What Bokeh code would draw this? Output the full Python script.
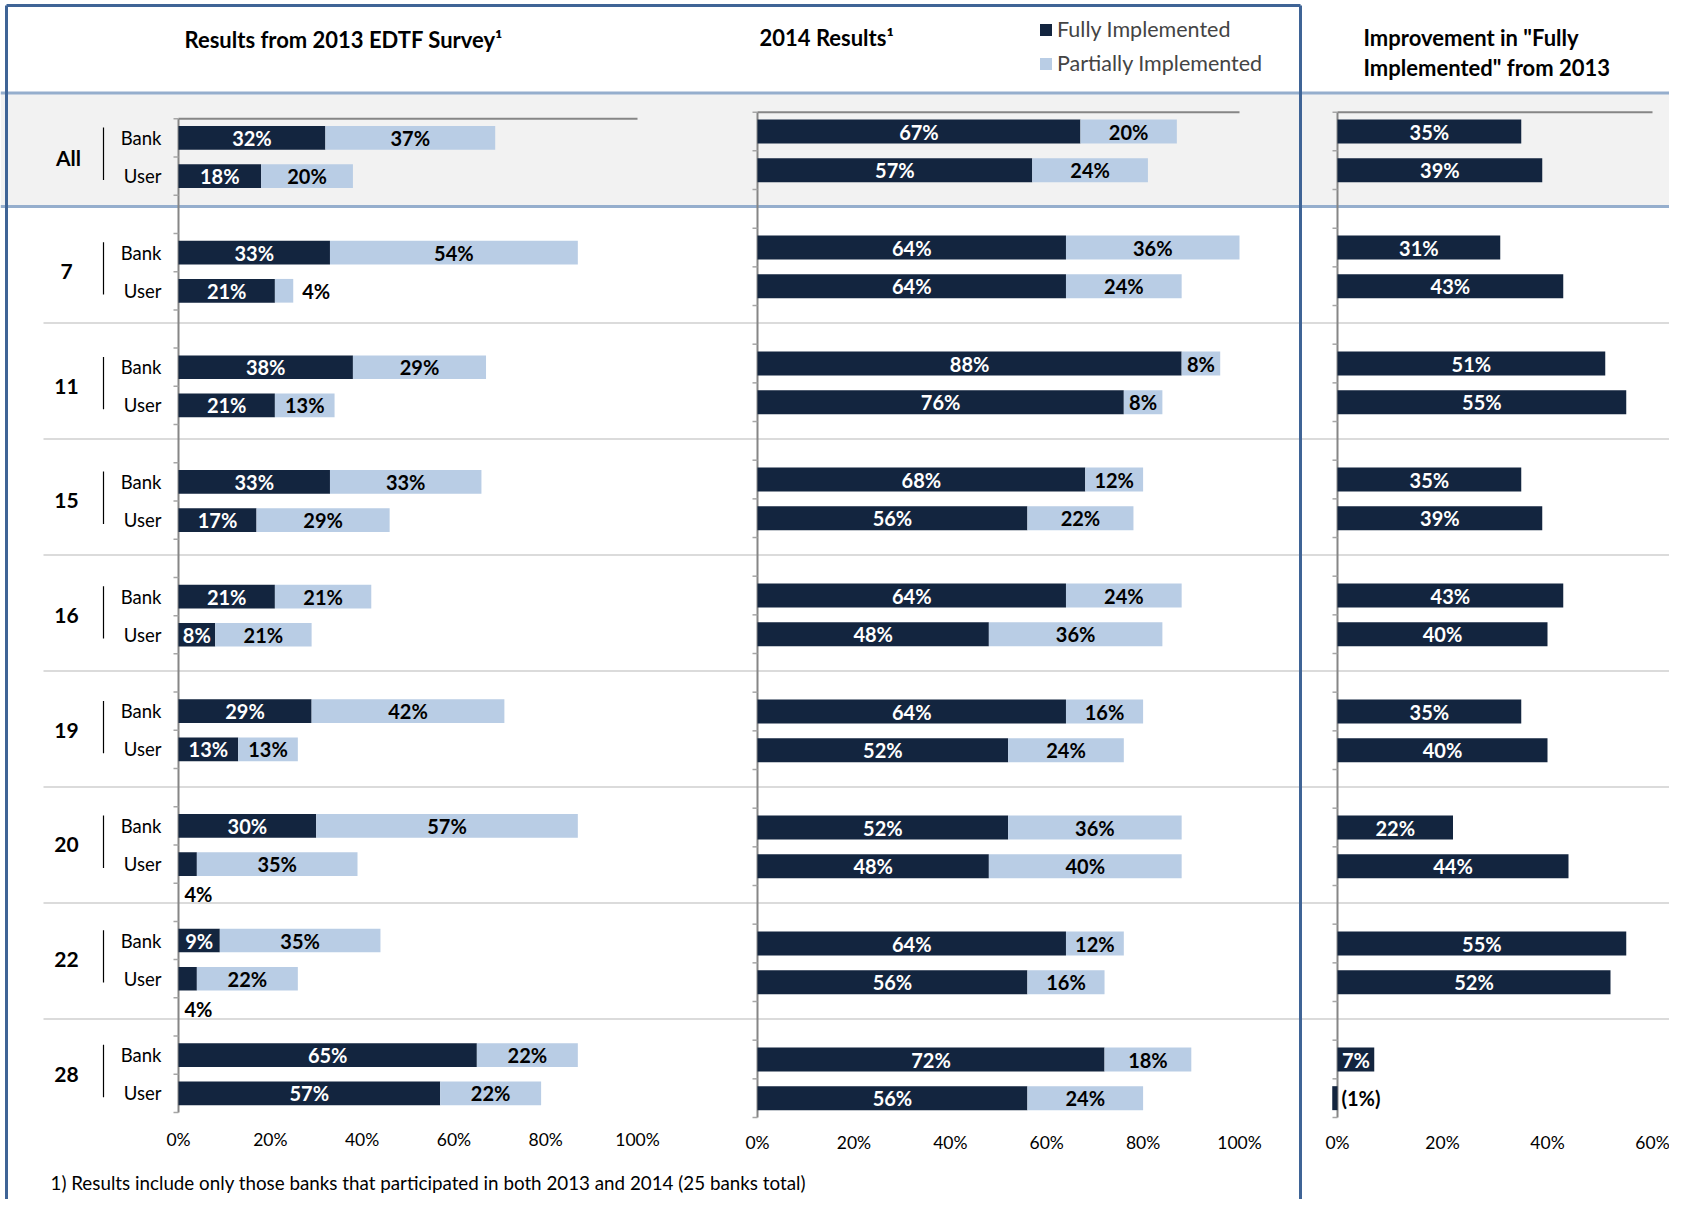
from bokeh.plotting import figure
from bokeh.models import Range1d, ColumnDataSource, Legend, LegendItem
from bokeh.core.properties import value
from bokeh.embed import file_html
from bokeh.resources import INLINE

# ---------------- data ----------------
groups = ["All", "7", "11", "15", "16", "19", "20", "22", "28"]
respondents = ["Bank", "User"]

bank_full_2013 = [32, 33, 38, 33, 21, 29, 30, 9, 65]
bank_part_2013 = [37, 54, 29, 33, 21, 42, 57, 35, 22]
user_full_2013 = [18, 21, 21, 17, 8, 13, 4, 4, 57]
user_part_2013 = [20, 4, 13, 29, 21, 13, 35, 22, 22]

bank_full_2014 = [67, 64, 88, 68, 64, 64, 52, 64, 72]
bank_part_2014 = [20, 36, 8, 12, 24, 16, 36, 12, 18]
user_full_2014 = [57, 64, 76, 56, 48, 52, 48, 56, 56]
user_part_2014 = [24, 24, 8, 22, 36, 24, 40, 16, 24]

bank_improve = [35, 31, 51, 35, 43, 35, 22, 55, 7]
user_improve = [39, 43, 55, 39, 40, 40, 44, 52, -1]

ticks_main = [0, 20, 40, 60, 80, 100]
ticks_improve = [0, 20, 40, 60]

title_2013 = "Results from 2013 EDTF Survey\u00b9"
title_2014 = "2014 Results\u00b9"
title_improve = ["Improvement in \"Fully", "Implemented\" from 2013"]
legend_labels = ["Fully Implemented", "Partially Implemented"]
footnote = "1) Results include only those banks that participated in both 2013 and 2014 (25 banks total)"

# ---------------- style ----------------
DARK = "#13253f"
LIGHT = "#b9cde5"
FRAME = "#3f6496"
HLINE = "#95aecd"
BAND = "#f2f2f2"
AXIS = "#868686"
SEP = "#cfcfcf"
FONT = value("Lato")

W, H = 1669, 1199

p = figure(width=W, height=H, x_range=Range1d(0, W), y_range=Range1d(H, 0),
           output_backend="svg", toolbar_location=None,
           x_axis_type=None, y_axis_type=None, min_border=0,
           outline_line_color=None, background_fill_color="white",
           border_fill_color="white")
p.xgrid.visible = False
p.ygrid.visible = False


def x_range(px_a, v_a, px_b, v_b):
    b = (px_b - px_a) / (v_b - v_a)
    a = px_a - b * v_a
    return Range1d(start=-a / b, end=(W - a) / b), b


def y_range(px_a, v_a, px_b, v_b):
    b = (px_b - px_a) / (v_b - v_a)
    a = px_a - b * v_a
    return Range1d(start=(H - a) / b, end=-a / b), b


xr1, sx1 = x_range(178, 0, 637, 100)
xr2, sx2 = x_range(757, 0, 1239, 100)
xr3, sx3 = x_range(1337, 0, 1652, 60)
yr1, sy1 = y_range(118.3, -0.5, 1112, 25.5)
yr2, sy2 = y_range(111.7, -0.5, 1117, 25.5)
p.extra_x_ranges = {"p1": xr1, "p2": xr2, "p3": xr3}
p.extra_y_ranges = {"y1": yr1, "y2": yr2}

n = len(groups)
nslots = 3 * n - 1

# ---------------- background decorations ----------------
p.quad(left=0, right=W, top=92.5, bottom=206, fill_color=BAND, line_color=None)
# group separators in the blank rows between groups
sep_y = [3 * g + 1.95 for g in range(1, n - 1)]
p.segment(x0=43, x1=W, y0=sep_y, y1=sep_y, line_color=SEP, line_width=1.5,
          y_range_name="y2")
# header lines
p.segment(x0=0, x1=W, y0=[92.5, 206], y1=[92.5, 206], line_color=HLINE, line_width=3)
# frame
p.segment(x0=[6, 1300, 6], x1=[6, 1300, 1300], y0=[5, 5, 5], y1=[H, H, 5],
          line_color=FRAME, line_width=3)

# ---------------- panels ----------------
y_bank = [3 * g for g in range(n)]
y_user = [3 * g + 1 for g in range(n)]
ys = y_bank + y_user


def axis_lines(xname, yname, xmax, sx):
    p.segment(x0=[0, 0], x1=[0, xmax], y0=[-0.5, -0.5], y1=[nslots - 0.5, -0.5],
              line_color=AXIS, line_width=2, x_range_name=xname, y_range_name=yname)
    tks = [k - 0.5 for k in range(nslots + 1)]
    p.segment(x0=[0] * len(tks), x1=[-5 / sx] * len(tks), y0=tks, y1=tks,
              line_color="#a6a6a6", line_width=1.5, x_range_name=xname, y_range_name=yname)


def stacked(full, part, xname, yname):
    src_f = ColumnDataSource(dict(y=ys, left=[0] * len(ys), right=full))
    src_p = ColumnDataSource(dict(y=ys, left=full, right=[f + q for f, q in zip(full, part)]))
    rf = p.hbar(y="y", left="left", right="right", height=0.62, source=src_f,
                fill_color=DARK, line_color=None, x_range_name=xname, y_range_name=yname)
    rp = p.hbar(y="y", left="left", right="right", height=0.62, source=src_p,
                fill_color=LIGHT, line_color=None, x_range_name=xname, y_range_name=yname)
    lx, ly, lt, lc, la, lo = [], [], [], [], [], []
    for y, f, q in zip(ys, full, part):
        if f >= 6:
            lx.append(f / 2); ly.append(y); la.append("center"); lc.append("white"); lo.append(0)
        else:
            lx.append(0); ly.append(y + 0.78); la.append("left"); lc.append("black"); lo.append(6)
        lt.append(f"{f}%")
        if q >= 6:
            lx.append(f + q / 2); ly.append(y); la.append("center"); lo.append(0)
        else:
            lx.append(f + q); ly.append(y); la.append("left"); lo.append(9)
        lc.append("black"); lt.append(f"{q}%")
    src_l = ColumnDataSource(dict(x=lx, y=ly, t=lt, c=lc, a=la, o=lo))
    p.text(x="x", y="y", text="t", text_color="c", text_align="a", x_offset="o",
           text_baseline="middle", text_font=FONT, text_font_style="bold",
           text_font_size="20px", source=src_l, x_range_name=xname, y_range_name=yname)
    return rf, rp


axis_lines("p1", "y1", 100, sx1)
axis_lines("p2", "y2", 100, sx2)
axis_lines("p3", "y2", 60, sx3)

rf1, rp1 = stacked(bank_full_2013 + user_full_2013, bank_part_2013 + user_part_2013, "p1", "y1")
rf2, rp2 = stacked(bank_full_2014 + user_full_2014, bank_part_2014 + user_part_2014, "p2", "y2")

imp = bank_improve + user_improve
p.hbar(y=ys, left=0, right=imp, height=0.62, fill_color=DARK, line_color=None,
       x_range_name="p3", y_range_name="y2")
ix, it, ic, ia, io = [], [], [], [], []
for v in imp:
    if v > 0:
        ix.append(v / 2); it.append(f"{v}%"); ic.append("white"); ia.append("center"); io.append(0)
    else:
        ix.append(0); it.append(f"({-v}%)"); ic.append("black"); ia.append("left"); io.append(4)
p.text(x=ix, y=ys, text=it, text_color=ic, text_align=ia, x_offset=io,
       text_baseline="middle", text_font=FONT, text_font_style="bold",
       text_font_size="20px", x_range_name="p3", y_range_name="y2")

# ---------------- category labels ----------------
p.text(x=[68] + [66] * (n - 1), y=[3 * g + 0.5 for g in range(n)], text=groups, text_align="center",
       text_baseline="middle", text_font=FONT, text_font_style="bold",
       text_font_size="21px", text_color="black", y_range_name="y1")
p.text(x=[161] * (2 * n), y=ys, text=[respondents[0]] * n + [respondents[1]] * n,
       text_align="right", text_baseline="middle", text_font=FONT,
       text_font_size="18.5px", text_color="black", y_range_name="y1")
p.segment(x0=103, x1=103, y0=[3 * g - 0.27 for g in range(n)], y1=[3 * g + 1.1 for g in range(n)],
          line_color="black", line_width=1.2, y_range_name="y1")

# ---------------- tick labels ----------------
for xname, tks, yy in (("p1", ticks_main, 1139), ("p2", ticks_main, 1142), ("p3", ticks_improve, 1142)):
    p.text(x=tks, y=[yy] * len(tks), text=[f"{t}%" for t in tks], text_align="center",
           text_baseline="middle", text_font=FONT, text_font_size="17.5px",
           text_color="black", x_range_name=xname)

# ---------------- titles ----------------
p.text(x=[184], y=[38.7], text=[title_2013], text_align="left", text_baseline="middle",
       text_font=FONT, text_font_style="bold", text_font_size="22px", text_color="black")
p.text(x=[759], y=[36.5], text=[title_2014], text_align="left", text_baseline="middle",
       text_font=FONT, text_font_style="bold", text_font_size="22px", text_color="black")
p.text(x=[1363, 1363], y=[36.5, 66.6], text=title_improve, text_align="left", text_baseline="middle",
       text_font=FONT, text_font_style="bold", text_font_size="22px", text_color="black")
p.text(x=[50], y=[1182], text=[footnote], text_align="left", text_baseline="middle",
       text_font=FONT, text_font_size="18.8px", text_color="black")

# ---------------- legend ----------------
legend = Legend(items=[LegendItem(label=legend_labels[0], renderers=[rf1]),
                       LegendItem(label=legend_labels[1], renderers=[rp1])],
                location=(1038, H - 76), orientation="vertical",
                glyph_width=15, glyph_height=15, label_height=22, spacing=8,
                padding=0, margin=0, label_standoff=4,
                label_text_font="Lato", label_text_font_size="21.5px",
                border_line_color=None, background_fill_alpha=0)
p.add_layout(legend, "center")

open("out.html", "w").write(file_html(p, INLINE))
